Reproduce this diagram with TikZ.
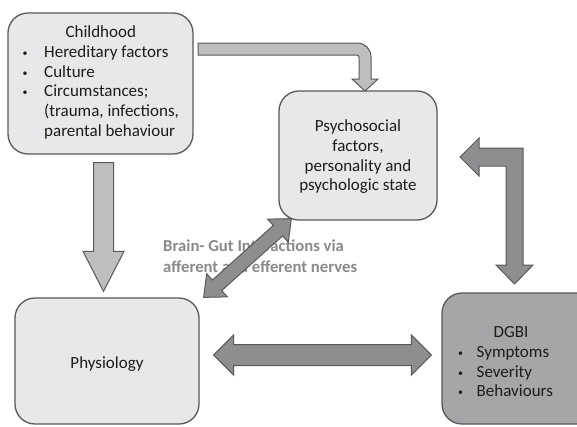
\documentclass[tikz,border=0pt]{standalone}
\usepackage{fontspec}
\setmainfont{Carlito}
\usetikzlibrary{calc}

\definecolor{boxline}{HTML}{595959}
\definecolor{boxfill}{HTML}{E8E8EA}
\definecolor{darkbox}{HTML}{A6A6A8}
\definecolor{lightarrow}{HTML}{BEBEC0}
\definecolor{darkarrow}{HTML}{8E8E90}
\definecolor{inktext}{HTML}{1C1C1C}
\definecolor{labeltext}{HTML}{8A8A8A}

% block arrow with heads at both ends: style, from, to, shaft half width, head half width, head length
\newcommand\twoheadblock[6]{%
  \filldraw[#1] (#2)
    -- ($(#2)!#6!(#3)!#5!90:(#3)$) -- ($(#2)!#6!(#3)!#4!90:(#3)$)
    -- ($(#3)!#6!(#2)!#4!-90:(#2)$) -- ($(#3)!#6!(#2)!#5!-90:(#2)$)
    -- (#3)
    -- ($(#3)!#6!(#2)!#5!90:(#2)$) -- ($(#3)!#6!(#2)!#4!90:(#2)$)
    -- ($(#2)!#6!(#3)!#4!-90:(#3)$) -- ($(#2)!#6!(#3)!#5!-90:(#3)$)
    -- cycle;}
% block arrow with one head at the second point
\newcommand\oneheadblock[6]{%
  \filldraw[#1] (#3)
    -- ($(#3)!#6!(#2)!#5!90:(#2)$) -- ($(#3)!#6!(#2)!#4!90:(#2)$)
    -- ($(#2)!#4!-90:(#3)$) -- ($(#2)!#4!90:(#3)$)
    -- ($(#3)!#6!(#2)!#4!-90:(#2)$) -- ($(#3)!#6!(#2)!#5!-90:(#2)$)
    -- cycle;}
% small list bullet in a fixed-width box
\newcommand\listbullet{\makebox[8pt]{\fontsize{10}{10}\selectfont\raisebox{1pt}{•}}}

\tikzset{
  every node/.style={font=\fontsize{17}{19.7}\selectfont, text=inktext},
  card/.style={draw=boxline, line width=1.3pt, fill=boxfill, rounded corners=20pt, inner sep=0pt},
  darkcard/.style={card, fill=darkbox},
  lightblock/.style={draw=boxline, line width=1pt, fill=lightarrow, line join=miter},
  darkblock/.style={draw=boxline, line width=1pt, fill=darkarrow, line join=miter},
  txt/.style={inner sep=0pt},
  gutlabel/.style={inner sep=0pt, text=labeltext, font=\bfseries\fontsize{16.7}{21}\selectfont},
}

\begin{document}
\begin{tikzpicture}[x=1pt, y=-1pt]
  \clip (0,0) rectangle (577,426);
  \fill[white] (0,0) rectangle (577,426);

  % boxes
  \node[card, minimum width=185pt, minimum height=141pt] (child) at (100.5,83.5) {};
  \node[card, minimum width=158pt, minimum height=129pt] (psycho) at (358,155.5) {};
  \node[card, minimum width=184pt, minimum height=126pt] (physio) at (107,361) {};
  \node[darkcard, minimum width=158pt, minimum height=131pt] (dgbi) at (521,358.5) {};

  % box texts
  \node[txt, anchor=base] (childtitle) at (100.8,37.7) {Childhood};
  \node[txt, anchor=base west] (childlist) at (21,57.3)
    {\begin{tabular}[t]{@{}l@{\hspace{15pt}}l@{}}
      \listbullet&Hereditary factors\\
      \listbullet&Culture\\
      \listbullet&Circumstances;\\
      &(trauma, infections,\\
      &parental behaviour
    \end{tabular}};
  \node[txt, anchor=base] (psychotext) at (358,131.7)
    {\begin{tabular}[t]{@{}c@{}}
      Psychosocial\\factors,\\personality and\\psychologic state
    \end{tabular}};
  \node[txt, anchor=base] (physiotext) at (107,368) {Physiology};
  \node[txt, anchor=base] (dgbititle) at (511,337) {DGBI};
  \node[txt, anchor=base west] (dgbilist) at (456.5,357.5)
    {\begin{tabular}[t]{@{}l@{\hspace{12pt}}l@{}}
      \listbullet&Symptoms\\
      \listbullet&Severity\\
      \listbullet&Behaviours
    \end{tabular}};

  % label of the brain-gut axis, partly covered by its arrow
  \node[gutlabel, anchor=base west] (gutaxis) at (163,251.7)
    {\begin{tabular}[t]{@{}l@{}}
      Brain- Gut Interactions via\\afferent and efferent nerves
    \end{tabular}};

  % connector end points
  \coordinate (downstart) at ($(child.south)+(3,8)$);
  \coordinate (downtip) at ($(physio.north)+(-3.5,-6)$);
  \coordinate (diaglow) at ($(physio.north east)+(4,0)$);
  \coordinate (diaghigh) at ($(psycho.south west)+(13,-2)$);
  \coordinate (horleft) at ($(physio.east)+(14,-6)$);
  \coordinate (horright) at ($(dgbi.west)+(-10,-3.5)$);

  % childhood -> physiology
  \oneheadblock{lightblock}{downstart}{downtip}{10pt}{20.5pt}{40pt}
  % physiology <-> psychosocial
  \twoheadblock{darkblock}{diaglow}{diaghigh}{7pt}{15.5pt}{18pt}
  % physiology <-> DGBI
  \twoheadblock{darkblock}{horleft}{horright}{10.5pt}{20pt}{20pt}

  % childhood -> psychosocial, bent
  \filldraw[lightblock] (198,43) -- (357,43) .. controls (365,43) and (371,49) .. (371,57)
    -- (371,79) -- (378,79) -- (365,91) -- (352,79) -- (359,79) -- (359,57)
    .. controls (359,56) and (358,55) .. (357,55) -- (198,55) -- cycle;

  % DGBI <-> psychosocial, bent
  \filldraw[darkblock] (460,157) -- (479,138) -- (479,148) -- (523,148) -- (523,265)
    -- (533,265) -- (514.5,284) -- (496,265) -- (506,265) -- (506,166)
    -- (479,166) -- (479,176) -- cycle;
\end{tikzpicture}
\end{document}
